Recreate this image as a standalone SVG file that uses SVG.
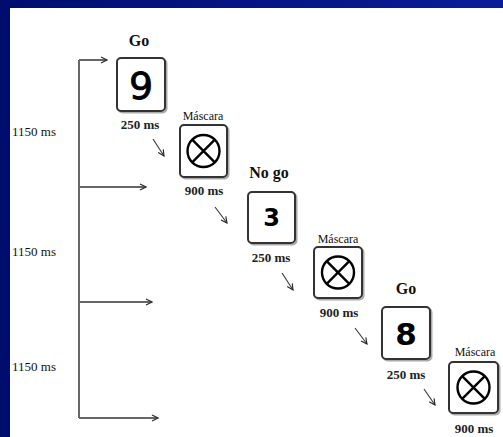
<svg xmlns="http://www.w3.org/2000/svg" width="503" height="437" viewBox="0 0 503 437">
<defs>
<linearGradient id="bg" x1="0" y1="0" x2="1" y2="0">
<stop offset="0" stop-color="#000c6e"/>
<stop offset="1" stop-color="#0a1d96"/>
</linearGradient>
<marker id="ah" markerWidth="8" markerHeight="8" refX="7" refY="4" orient="auto" markerUnits="userSpaceOnUse">
<path d="M1,1 L7,4 L1,7" fill="none" stroke="#333" stroke-width="1.3"/>
</marker>
<marker id="ah2" markerWidth="8" markerHeight="8" refX="7" refY="4" orient="auto" markerUnits="userSpaceOnUse">
<path d="M1,1 L7,4 L1,7" fill="none" stroke="#222" stroke-width="1.1"/>
</marker>
</defs>
<style>
.lbl{font-family:"Liberation Serif",serif;fill:#111;text-anchor:middle}
.ms{font-size:13px;font-weight:bold;fill:#222}
.cue{font-size:16px;font-weight:bold}
.msk{font-size:12px}
.side{font-family:"Liberation Serif",serif;font-size:13px;fill:#111}
.box{fill:#fff;stroke:#333;stroke-width:2}
.shadow{fill:none;stroke:#aaa;stroke-width:2}
.dig{font-family:"DejaVu Sans","Liberation Sans",sans-serif;fill:#000;text-anchor:middle}
.tl{fill:none;stroke:#666;stroke-width:2}
.dg{fill:none;stroke:#333;stroke-width:1.1}
.x{fill:none;stroke:#000;stroke-width:2.4}
</style>
<rect x="0" y="0" width="503" height="437" fill="url(#bg)"/>
<rect x="10" y="8" width="493" height="429" fill="#fff"/>

<g id="timeline">
<path class="tl" d="M79,418 L79,60"/>
<path class="tl" d="M79,60 L107,60" marker-end="url(#ah)"/>
<path class="tl" d="M79,187 L146,187" marker-end="url(#ah)"/>
<path class="tl" d="M79,302 L152,302" marker-end="url(#ah)"/>
<path class="tl" d="M79,418 L158,418" marker-end="url(#ah)"/>
<text class="side" x="12" y="136">1150 ms</text>
<text class="side" x="12" y="256">1150 ms</text>
<text class="side" x="12" y="371">1150 ms</text>
</g>

<g id="connectors">
<path class="dg" d="M153,139 L164,156" marker-end="url(#ah2)"/>
<path class="dg" d="M215,207 L227,223" marker-end="url(#ah2)"/>
<path class="dg" d="M282,273 L293,290" marker-end="url(#ah2)"/>
<path class="dg" d="M355,328 L367,344" marker-end="url(#ah2)"/>
<path class="dg" d="M424,389 L435,405" marker-end="url(#ah2)"/>
</g>

<g id="go1">
<text class="lbl cue" x="139" y="46">Go</text>
<rect class="shadow" x="118.5" y="59.5" width="48" height="53" rx="4"/>
<rect class="box" x="117" y="58" width="48" height="53" rx="4"/>
<text class="dig" x="141" y="99" font-size="38" stroke="#000" stroke-width="0.8">9</text>
<text class="lbl ms" x="140" y="129">250 ms</text>
</g>

<g id="mask1">
<text class="lbl msk" x="203" y="120">Máscara</text>
<rect class="shadow" x="181.5" y="126.5" width="47" height="52" rx="4"/>
<rect class="box" x="180" y="125" width="47" height="52" rx="4"/>
<circle class="x" cx="203.5" cy="151" r="16"/>
<path class="x" d="M192.2,139.7 L214.8,162.3 M214.8,139.7 L192.2,162.3"/>
<text class="lbl ms" x="204" y="195">900 ms</text>
</g>

<g id="nogo">
<text class="lbl cue" x="269" y="178">No go</text>
<rect class="shadow" x="249.5" y="193.5" width="47" height="51" rx="4"/>
<rect class="box" x="248" y="192" width="47" height="51" rx="4"/>
<text class="dig" x="271.5" y="226" font-size="24" font-weight="bold">3</text>
<text class="lbl ms" x="271" y="262">250 ms</text>
</g>

<g id="mask2">
<text class="lbl msk" x="338" y="243">Máscara</text>
<rect class="shadow" x="315.5" y="248.5" width="48" height="51" rx="4"/>
<rect class="box" x="314" y="247" width="48" height="51" rx="4"/>
<circle class="x" cx="338" cy="272.5" r="16"/>
<path class="x" d="M326.7,261.2 L349.3,283.8 M349.3,261.2 L326.7,283.8"/>
<text class="lbl ms" x="339" y="317">900 ms</text>
</g>

<g id="go2">
<text class="lbl cue" x="406" y="294">Go</text>
<rect class="shadow" x="383.5" y="308.5" width="48" height="52" rx="4"/>
<rect class="box" x="382" y="307" width="48" height="52" rx="4"/>
<text class="dig" x="406" y="345" font-size="31" font-weight="bold">8</text>
<text class="lbl ms" x="406" y="379">250 ms</text>
</g>

<g id="mask3">
<text class="lbl msk" x="475" y="356">Máscara</text>
<rect class="shadow" x="450.5" y="363.5" width="49" height="51" rx="4"/>
<rect class="box" x="449" y="362" width="49" height="51" rx="4"/>
<circle class="x" cx="473.5" cy="387.5" r="16"/>
<path class="x" d="M462.2,376.2 L484.8,398.8 M484.8,376.2 L462.2,398.8"/>
<text class="lbl ms" x="474" y="433">900 ms</text>
</g>
</svg>
